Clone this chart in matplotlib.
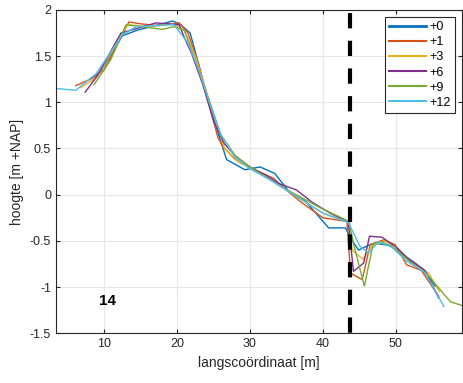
import matplotlib
matplotlib.use('Agg')
import matplotlib.pyplot as plt

plt.rcParams['font.family'] = ['Liberation Sans', 'DejaVu Sans']

# Data
x0 = [8.0, 9.5, 12.5, 14.5, 17.0, 19.4, 20.5, 21.8, 23.0, 24.5, 25.5, 26.8, 29.3, 31.4, 33.4, 35.5, 37.6, 40.8, 43.1, 43.8, 44.9, 46.5, 47.4, 49.2, 50.6, 52.3, 53.8, 55.4]
y0 = [1.25, 1.33, 1.72, 1.78, 1.83, 1.88, 1.84, 1.75, 1.40, 0.95, 0.70, 0.38, 0.27, 0.30, 0.23, 0.02, -0.07, -0.36, -0.36, -0.47, -0.60, -0.54, -0.53, -0.55, -0.63, -0.72, -0.81, -0.99]

x1 = [6.1, 8.4, 10.0, 13.4, 15.0, 17.5, 20.3, 21.5, 23.0, 24.5, 25.6, 26.3, 28.0, 30.0, 33.2, 35.0, 37.0, 40.0, 43.3, 43.8, 45.4, 46.5, 48.3, 49.9, 51.5, 53.5, 55.9]
y1 = [1.18, 1.26, 1.35, 1.87, 1.85, 1.83, 1.86, 1.75, 1.40, 0.95, 0.62, 0.52, 0.38, 0.29, 0.18, 0.05, -0.08, -0.25, -0.29, -0.85, -0.92, -0.54, -0.49, -0.54, -0.76, -0.82, -1.10]

x3 = [6.8, 9.0, 13.2, 16.0, 19.5, 21.0, 22.5, 24.5, 26.5, 28.5, 31.0, 35.0, 40.0, 43.5, 44.0, 45.5, 46.8, 48.5, 50.0, 52.0, 54.5, 56.0]
y3 = [1.16, 1.27, 1.84, 1.82, 1.85, 1.78, 1.50, 1.00, 0.50, 0.35, 0.25, 0.05, -0.20, -0.30, -0.60, -0.70, -0.55, -0.50, -0.56, -0.72, -0.85, -1.05]

x6 = [7.4, 9.0, 12.3, 14.5, 17.1, 20.3, 21.0, 22.0, 23.5, 25.0, 26.5, 28.0, 30.0, 32.0, 34.0, 36.4, 38.5, 41.0, 43.5, 44.2, 45.6, 46.4, 48.1, 50.1, 51.8, 54.0, 55.9]
y6 = [1.11, 1.28, 1.75, 1.80, 1.86, 1.84, 1.70, 1.53, 1.20, 0.80, 0.55, 0.42, 0.30, 0.22, 0.12, 0.05, -0.08, -0.20, -0.30, -0.83, -0.74, -0.45, -0.46, -0.57, -0.70, -0.82, -1.12]

x9 = [8.6, 10.9, 13.0, 15.0, 18.0, 19.6, 21.0, 22.5, 24.5, 26.0, 28.0, 30.0, 34.0, 39.6, 43.6, 44.2, 45.7, 46.9, 48.1, 49.5, 52.0, 54.5, 57.5, 59.1]
y9 = [1.19, 1.46, 1.84, 1.82, 1.79, 1.82, 1.78, 1.45, 1.00, 0.65, 0.42, 0.30, 0.10, -0.14, -0.29, -0.53, -0.99, -0.53, -0.51, -0.56, -0.73, -0.88, -1.16, -1.20]

x12 = [3.4, 6.1, 8.9, 12.5, 14.4, 19.6, 21.5, 23.0, 24.5, 26.0, 28.0, 30.0, 33.0, 36.0, 40.0, 43.5, 45.1, 46.3, 47.6, 49.5, 51.5, 54.0, 56.6]
y12 = [1.15, 1.13, 1.31, 1.73, 1.82, 1.84, 1.64, 1.35, 0.98, 0.65, 0.40, 0.28, 0.15, 0.00, -0.20, -0.30, -0.56, -0.63, -0.51, -0.57, -0.72, -0.84, -1.21]

labels = ['+0', '+1', '+3', '+6', '+9', '+12']
colors = ['#0072BD', '#D95319', '#EDB120', '#7E2F8E', '#77AC30', '#4DBEEE']
series = [(x0, y0), (x1, y1), (x3, y3), (x6, y6), (x9, y9), (x12, y12)]

x_cut = 43.75

fig = plt.figure(figsize=(4.63, 3.83), dpi=100)
ax = fig.add_axes([0.121, 0.130, 0.877, 0.844])

for (x, y), lab, c in zip(series, labels, colors):
    ax.plot(x, y, color=c, lw=1.0, label=lab)

# dashed cut line, drawn from top down
ax.plot([x_cut, x_cut], [2, -1.5], color='black', lw=3,
        linestyle=(5.9, (3.67, 2.97)), solid_capstyle='butt', dash_capstyle='butt')
ax.text(10.5, -1.15, '14', fontsize=11, fontweight='bold', ha='center', va='center')

ax.set_xlim(3.4, 59.1)
ax.set_ylim(-1.5, 2)
ax.set_xticks([10, 20, 30, 40, 50])
ax.set_yticks([-1.5, -1, -0.5, 0, 0.5, 1, 1.5, 2])
ax.set_yticklabels(['-1.5', '-1', '-0.5', '0', '0.5', '1', '1.5', '2'])
ax.grid(True, color='#e6e6e6', lw=0.8)
ax.tick_params(direction='in', top=True, right=True, labelsize=9, colors='#262626', length=3)
for s in ax.spines.values():
    s.set_color('#262626')
    s.set_linewidth(0.8)
ax.set_xlabel('langscoördinaat [m]', fontsize=10, color='#262626')
ax.set_ylabel('hoogte [m +NAP]', fontsize=10, color='#262626')

handles, labs = ax.get_legend_handles_labels()
handles = handles[:6]
labs = labs[:6]
leg = ax.legend(handles, labs, loc='upper right', fontsize=9, frameon=True, fancybox=False,
                edgecolor='#262626', framealpha=1, handlelength=2.9,
                borderaxespad=0.55, labelspacing=0.25, handletextpad=0.3,
                borderpad=0.35)
leg.get_frame().set_linewidth(0.8)
for i, ln in enumerate(leg.get_lines()):
    ln.set_linewidth(2.0 if i == 0 else 1.5)

fig.savefig('out.png', dpi=100)
